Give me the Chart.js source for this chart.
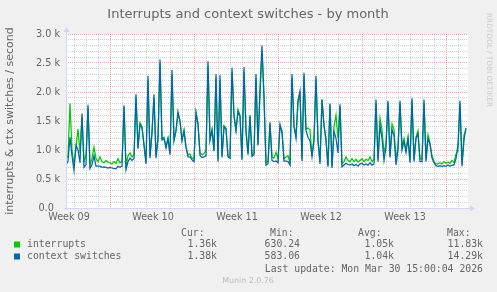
<!DOCTYPE html>
<html>
<head>
<meta charset="utf-8">
<title>Interrupts and context switches - by month</title>
<script src="https://cdn.jsdelivr.net/npm/chart.js@4/dist/chart.umd.min.js"></script>
<style>
  html, body { margin: 0; padding: 0; background: #f0f0f0; }
  canvas { display: block; }
</style>
</head>
<body>
<canvas id="mycanvas" width="497" height="292"></canvas>
<script>
// per second, in thousands, one value every 4 hours
var interrupts = [
  0.85, 0.9, 1.80, 1.0, 0.75, 1.05, 1.36, 0.95, 1.58, 0.8, 0.92, 1.72, 0.75, 0.85, 1.05, 0.85, 0.8, 0.88,
  0.8, 0.78, 0.82, 0.79, 0.78, 0.76, 0.8, 0.77, 0.85, 0.78, 0.8, 1.74, 0.74, 0.9, 0.95, 0.88, 0.92,
  1.9, 1.05, 1.47, 1.4, 1.1, 0.8, 2.2, 0.9, 1.32, 1.9, 0.9, 1.2, 2.5, 1.2, 1.22, 1.05, 1.2, 0.95,
  2.3, 1.18, 1.32, 1.62, 1.5, 1.18, 1.34, 1.05, 0.92, 0.93, 0.86, 0.84, 1.66, 1.45, 0.95, 0.92, 0.94, 1.0,
  2.45, 1.18, 1.36, 1.0, 2.25, 0.84, 2.2, 0.9, 1.42, 1.38, 0.9, 0.86, 2.35, 1.6, 1.35, 1.7, 1.6, 0.86,
  2.35, 1.34, 0.95, 1.58, 0.92, 0.95, 2.25, 1.1, 1.92, 2.7, 1.9, 0.78,
  0.8, 1.45, 0.88, 0.86, 0.96, 0.84, 1.42, 1.34, 0.84, 0.88, 0.9, 0.78, 2.25, 1.42, 1.25, 1.82, 1.95, 0.85,
  2.28, 1.36, 1.38, 1.35, 0.9, 1.2, 2.22, 1.18, 0.8, 1.88, 1.42, 1.2, 0.74, 1.78, 0.72, 1.4, 1.6, 1.2, 1.75,
  0.76, 0.8, 0.88, 0.82, 0.8, 0.85, 0.8, 0.84, 0.79, 0.82, 0.85, 0.8, 0.84, 0.82, 0.88, 0.8, 0.84,
  1.82, 0.84, 1.55, 1.35, 0.95, 1.1, 1.82, 0.9, 1.45, 1.35, 0.85, 1.05, 1.8, 1.05, 1.2, 1.0, 1.22, 0.82,
  1.85, 0.84, 1.22, 1.33, 0.85, 0.84, 1.82, 0.84, 1.26, 1.12, 0.9, 0.8, 0.76, 0.76, 0.78, 0.76, 0.8, 0.77,
  0.79, 0.77, 0.82, 0.78, 0.93, 0.98, 1.8, 0.76, 1.26, 1.36
];
var contextSwitches = [
  0.75, 0.8, 1.22, 0.9, 0.65, 1.08, 1.0, 0.78, 1.63, 0.7, 0.75, 1.78, 0.68, 0.75, 0.9, 0.72, 0.72, 0.72,
  0.7, 0.71, 0.7, 0.69, 0.7, 0.69, 0.68, 0.68, 0.72, 0.7, 0.72, 1.77, 0.66, 0.8, 0.86, 0.82, 0.85,
  1.96, 1.02, 1.44, 1.38, 1.08, 0.76, 2.28, 0.86, 1.3, 1.96, 0.86, 1.2, 2.56, 1.17, 1.2, 1.04, 1.2, 0.92,
  2.38, 1.16, 1.34, 1.66, 1.5, 1.16, 1.33, 1.04, 0.88, 0.88, 0.83, 0.8, 1.63, 1.45, 0.9, 0.87, 0.88, 0.9,
  2.53, 1.17, 1.34, 0.98, 2.31, 0.8, 2.29, 0.87, 1.4, 1.36, 0.88, 0.86, 2.42, 1.58, 1.33, 1.66, 1.58, 0.83,
  2.43, 1.32, 0.92, 1.6, 0.89, 0.92, 2.31, 1.08, 2.08, 2.8, 1.92, 0.74,
  0.76, 1.48, 0.82, 0.8, 0.81, 0.78, 1.44, 1.3, 0.81, 0.81, 0.8, 0.74, 2.31, 1.4, 1.2, 1.86, 2.02, 0.81,
  2.33, 1.34, 1.22, 1.16, 0.88, 1.17, 2.28, 1.15, 0.76, 1.86, 1.42, 1.16, 0.71, 1.8, 0.69, 1.32, 1.2, 0.95, 1.79,
  0.71, 0.74, 0.77, 0.75, 0.74, 0.76, 0.73, 0.75, 0.72, 0.76, 0.77, 0.74, 0.76, 0.74, 0.78, 0.74, 0.76,
  1.87, 0.8, 1.42, 1.2, 0.82, 1.05, 1.85, 0.87, 1.35, 1.25, 0.74, 1.0, 1.85, 1.0, 1.15, 0.96, 1.2, 0.78,
  1.89, 0.8, 1.2, 1.28, 0.8, 0.8, 1.87, 0.8, 1.2, 1.1, 0.86, 0.78, 0.73, 0.72, 0.73, 0.72, 0.73, 0.72,
  0.74, 0.72, 0.74, 0.74, 0.85, 1.1, 1.85, 0.72, 1.17, 1.38
];
var weekLabels = ['Week 09', 'Week 10', 'Week 11', 'Week 12', 'Week 13'];
var yTickLabels = ['0.0  ', '0.5 k', '1.0 k', '1.5 k', '2.0 k', '2.5 k', '3.0 k'];
var seriesNames = ['interrupts', 'context switches'];
var curValues = ['1.36k', '1.38k'];
var minValues = ['630.24', '583.06'];
var avgValues = ['1.05k', '1.04k'];
var maxValues = ['11.83k', '14.29k'];
var lastUpdate = 'Last update: Mon Mar 30 15:00:04 2026';

// time grid, in 4 hour steps
var stepsPerDay = 6;
var firstMonday = 22;
var totalSteps = 201;

var dayTicks = [], weekTicks = [], labelTicks = [];
for (var t = firstMonday % stepsPerDay; t < totalSteps; t += stepsPerDay) {
  dayTicks.push(t);
  if ((t - firstMonday) % (stepsPerDay * 7) === 0) weekTicks.push(t);
}
for (var w = 0; w < weekLabels.length; w++) {
  labelTicks.push(firstMonday - 3.5 * stepsPerDay + w * 7 * stepsPerDay + 0.5);
}
var xTicks = dayTicks.concat(labelTicks).sort(function(a, b) { return a - b; });

function toPoints(arr) {
  var out = [];
  for (var i = 0; i < arr.length; i++) out.push({x: i, y: arr[i]});
  return out;
}

var gridGray = 'rgba(150,150,150,0.42)';
var gridRed = 'rgba(228,70,70,0.45)';
var textColor = '#666666';

var munin = {
  id: 'munin',
  beforeDraw: function(chart) {
    var c = chart.ctx, a = chart.chartArea;
    c.save();
    c.fillStyle = '#f0f0f0';
    c.fillRect(0, 0, chart.width, chart.height);
    c.fillStyle = '#ffffff';
    c.fillRect(a.left, a.top, a.right - a.left, a.bottom - a.top);
    c.restore();
  },
  afterDraw: function(chart) {
    var c = chart.ctx, a = chart.chartArea;
    c.save();
    // axes + arrows
    c.strokeStyle = '#cfd6f8';
    c.fillStyle = '#cfd6f8';
    c.lineWidth = 1;
    c.beginPath();
    c.moveTo(a.left - 2, a.bottom + 0.5);
    c.lineTo(a.right + 3, a.bottom + 0.5);
    c.moveTo(a.left + 0.5, a.bottom + 2);
    c.lineTo(a.left + 0.5, a.top - 4);
    c.stroke();
    c.beginPath();
    c.moveTo(a.right + 2, a.bottom - 2.5);
    c.lineTo(a.right + 7, a.bottom + 0.5);
    c.lineTo(a.right + 2, a.bottom + 3.5);
    c.fill();
    c.beginPath();
    c.moveTo(a.left - 2.5, a.top - 2);
    c.lineTo(a.left + 0.5, a.top - 7);
    c.lineTo(a.left + 3.5, a.top - 2);
    c.fill();

    // title
    c.fillStyle = textColor;
    c.textAlign = 'center';
    c.textBaseline = 'alphabetic';
    c.font = '13px "DejaVu Sans"';
    c.fillText('Interrupts and context switches - by month', 248, 18);

    // vertical unit label
    c.save();
    c.translate(10, (a.top + a.bottom) / 2);
    c.rotate(-Math.PI / 2);
    c.textBaseline = 'middle';
    c.font = '11px "DejaVu Sans"';
    c.fillText('interrupts & ctx switches / second', 0, 0);
    c.restore();

    // watermark on the right
    c.save();
    c.translate(489, 60);
    c.rotate(Math.PI / 2);
    c.textBaseline = 'middle';
    c.fillStyle = '#cccccc';
    c.font = '7.3px "DejaVu Sans"';
    c.fillText('RRDTOOL / TOBI OETIKER', 0, 0);
    c.restore();

    // legend table
    c.font = '9.8px "DejaVu Sans Mono"';
    c.textBaseline = 'middle';
    c.textAlign = 'left';
    c.fillText('Cur:', 181, 233);
    c.fillText('Min:', 270, 233);
    c.fillText('Avg:', 358, 233);
    c.fillText('Max:', 447, 233);
    var colors = ['#00cc00', '#0066b3'];
    var rowY = [244.5, 256.5];
    for (var r = 0; r < seriesNames.length; r++) {
      c.fillStyle = colors[r];
      c.fillRect(14, rowY[r] - 3, 6, 6);
      c.fillStyle = textColor;
      c.textAlign = 'left';
      c.fillText(seriesNames[r], 27, rowY[r]);
      c.textAlign = 'right';
      c.fillText(curValues[r], 217, rowY[r]);
      c.fillText(minValues[r], 300, rowY[r]);
      c.fillText(avgValues[r], 394, rowY[r]);
      c.fillText(maxValues[r], 483, rowY[r]);
    }
    c.fillText(lastUpdate, 483, 269);

    c.textAlign = 'center';
    c.fillStyle = '#bbbbbb';
    c.font = '7.9px "DejaVu Sans"';
    c.fillText('Munin 2.0.76', 248, 281);
    c.restore();
  }
};

var ctx = document.getElementById('mycanvas');
var chart = new Chart(ctx, {
  type: 'line',
  data: {
    datasets: [
      {
        label: 'interrupts',
        data: toPoints(interrupts),
        borderColor: '#00cc00',
        borderWidth: 1.25,
        order: 1
      },
      {
        label: 'context switches',
        data: toPoints(contextSwitches),
        borderColor: '#0066b3',
        borderWidth: 1.25,
        order: 0
      }
    ]
  },
  options: {
    responsive: false,
    animation: false,
    devicePixelRatio: 1,
    layout: { padding: { left: 0, right: 29, top: 34, bottom: 64 } },
    elements: { point: { radius: 0 }, line: { tension: 0 } },
    plugins: { legend: { display: false }, tooltip: { enabled: false }, title: { display: false } },
    scales: {
      x: {
        type: 'linear',
        min: 0,
        max: totalSteps,
        afterBuildTicks: function(scale) {
          scale.ticks = xTicks.map(function(v) { return {value: v}; });
        },
        afterFit: function(scale) { scale.height = 20; },
        ticks: {
          autoSkip: false,
          maxRotation: 0,
          padding: 4,
          color: textColor,
          font: { family: 'DejaVu Sans', size: 9.6 },
          callback: function(v) {
            var k = labelTicks.indexOf(v);
            return k >= 0 ? weekLabels[k] : '';
          }
        },
        grid: {
          drawTicks: false,
          color: function(c) {
            if (!c.tick) return 'transparent';
            var v = c.tick.value;
            if (weekTicks.indexOf(v) >= 0) return gridRed;
            if (dayTicks.indexOf(v) >= 0) return gridGray;
            return 'transparent';
          }
        },
        border: { display: false, dash: [1, 1] }
      },
      y: {
        min: 0,
        max: 3,
        afterBuildTicks: function(scale) {
          var t = [];
          for (var i = 0; i <= 30; i++) t.push({value: i / 10});
          scale.ticks = t;
        },
        afterFit: function(scale) { scale.width = 66; },
        ticks: {
          autoSkip: false,
          padding: 6,
          color: textColor,
          font: { family: 'DejaVu Sans', size: 9.7 },
          callback: function(v) {
            var n = Math.round(v * 10);
            return n % 5 ? '' : yTickLabels[n / 5];
          }
        },
        grid: {
          drawTicks: false,
          color: function(c) {
            if (!c.tick) return 'transparent';
            var n = Math.round(c.tick.value * 10);
            if (n === 0) return 'transparent';
            return n % 5 === 0 ? gridRed : gridGray;
          }
        },
        border: { display: false, dash: [1, 1] }
      }
    }
  },
  plugins: [munin]
});
</script>
</body>
</html>
